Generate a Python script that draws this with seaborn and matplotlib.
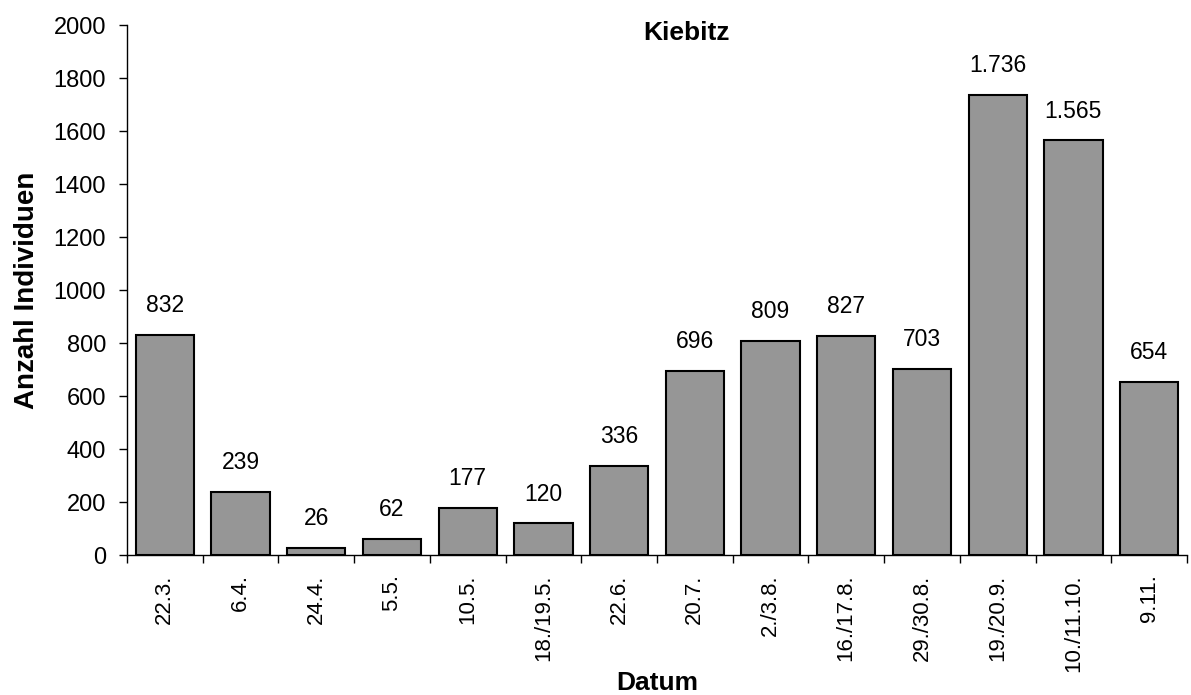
import matplotlib
matplotlib.use("Agg")
import matplotlib.pyplot as plt
import seaborn as sns
import pandas as pd
import numpy as np
from matplotlib.ticker import FixedLocator

dates = ["22.3.", "6.4.", "24.4.", "5.5.", "10.5.", "18./19.5.", "22.6.", "20.7.",
         "2./3.8.", "16./17.8.", "29./30.8.", "19./20.9.", "10./11.10.", "9.11."]
counts = [832, 239, 26, 62, 177, 120, 336, 696, 809, 827, 703, 1736, 1565, 654]

sns.set_style("white")
plt.rcParams['font.family'] = ['Liberation Sans', 'DejaVu Sans']
plt.rcParams['text.color'] = 'black'
plt.rcParams['axes.labelcolor'] = 'black'
plt.rcParams['xtick.color'] = 'black'
plt.rcParams['ytick.color'] = 'black'

df = pd.DataFrame({"Datum": dates, "Anzahl": counts})

fig = plt.figure(figsize=(11.91, 6.95), dpi=100)
ax = fig.add_axes([0.1066, 0.2014, 0.89, 0.7626])

sns.barplot(data=df, x="Datum", y="Anzahl", color="#969696", saturation=1,
            edgecolor="black", linewidth=1.5, width=0.77, ax=ax)

ax.set_xlim(-0.5, len(dates) - 0.5)
ax.set_ylim(0, 2000)
ax.set_yticks(np.arange(0, 2001, 200))

for i, v in enumerate(counts):
    lbl = f"{v:,}".replace(",", ".")
    ax.annotate(lbl, (i, v), xytext=(0, 21), textcoords="offset points",
                ha="center", va="center", fontsize=16.5)

for s in ["top", "right"]:
    ax.spines[s].set_visible(False)
for s in ["left", "bottom"]:
    ax.spines[s].set_color("black")
    ax.spines[s].set_linewidth(1.0)

ax.tick_params(axis="y", which="major", direction="out", length=6, width=1,
               labelsize=17, left=True, pad=9)
ax.tick_params(axis="x", which="major", length=0, labelsize=16, labelrotation=90, pad=14)
ax.xaxis.set_minor_locator(FixedLocator(np.arange(-0.5, len(dates), 1.0)))
ax.tick_params(axis="x", which="minor", direction="out", length=6, width=1,
               bottom=True)

ax.set_xlabel("Datum", fontsize=19, fontweight="bold", va="center")
ax.xaxis.set_label_coords(0.5, -0.2415)
ax.set_ylabel("Anzahl Individuen", fontsize=20, fontweight="bold", labelpad=10)
ax.text(0.528, 0.985, "Kiebitz", transform=ax.transAxes, ha="center", va="center",
        fontsize=19, fontweight="bold")

fig.savefig("out.png", dpi=100)
